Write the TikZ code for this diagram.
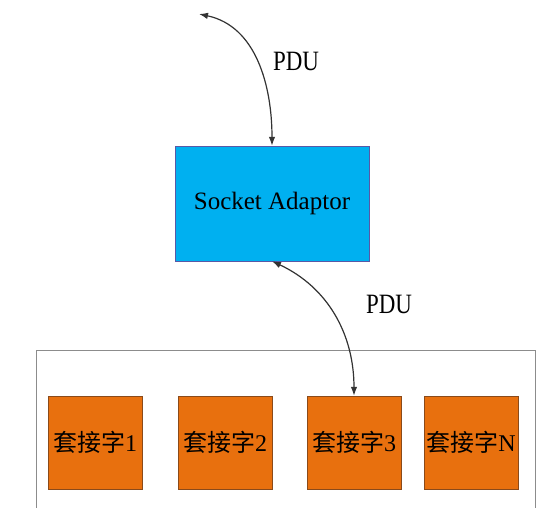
\documentclass[tikz,border=0pt]{standalone}
\usepackage{fontspec}
\setmainfont{Liberation Serif}
\newfontfamily\cjk{Noto Sans CJK SC}
\usetikzlibrary{arrows.meta}
\definecolor{sockblue}{HTML}{00B0F0}
\definecolor{sockorange}{HTML}{E8700E}
\definecolor{orangeedge}{HTML}{8A4A1A}
\begin{document}
\begin{tikzpicture}[x=1pt,y=-1pt,
  box/.style={draw=orangeedge,fill=sockorange,minimum width=94pt,minimum height=93pt,inner sep=0pt,font=\fontsize{24}{24}\selectfont},
  link/.style={draw=black!80,line width=1.2pt,{Latex[length=9pt,width=6.5pt]}-{Latex[length=9pt,width=6.5pt]}},
  lbl/.style={font=\fontsize{28}{28}\selectfont,xscale=0.82}]
\useasboundingbox (0,0) rectangle (546,508);
\begin{scope}
\clip (0,0) rectangle (546,508);
\draw[gray!90,line width=0.8pt] (36,350) rectangle (535,520);
\end{scope}
\node[draw=gray!70!blue,fill=sockblue,minimum width=194pt,minimum height=115pt,inner sep=0pt,font=\fontsize{25}{25}\selectfont] (sock) at (272,203.5) {Socket Adaptor};
\node[box] (s1) at (95,442.5) {{\cjk 套接字}1};
\node[box] (s2) at (225,442.5) {{\cjk 套接字}2};
\node[box] (s3) at (354,442.5) {{\cjk 套接字}3};
\node[box] (s4) at (471,442.5) {{\cjk 套接字}N};
\coordinate (top) at (199,14);
\draw[link] (top) to[out=-12,in=90] (sock.north);
\draw[link] (sock.south) to[out=-25,in=90] (s3.north);
\node[lbl] (p1) at (296,61) {PDU};
\node[lbl] (p2) at (389,304) {PDU};
\end{tikzpicture}
\end{document}
